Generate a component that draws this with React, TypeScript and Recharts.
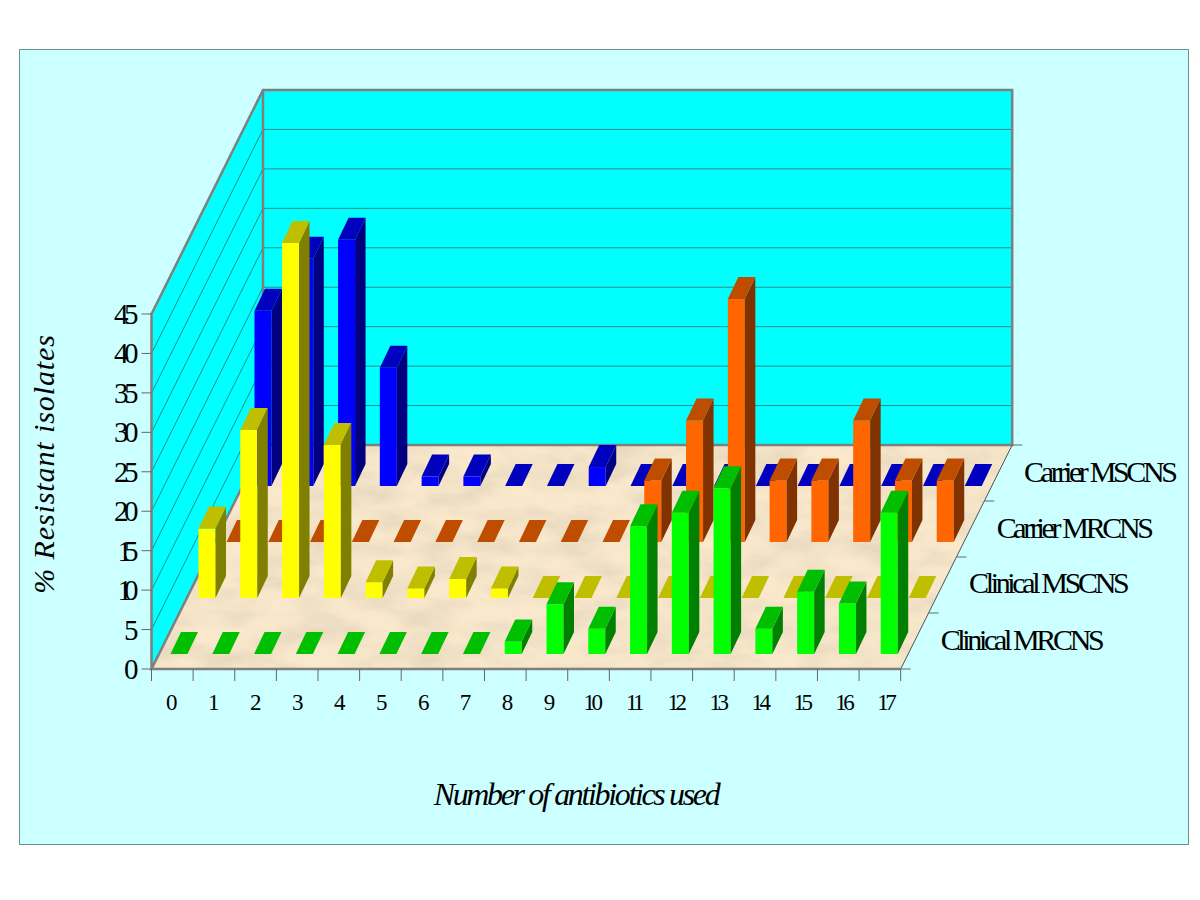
import React from "react";
import { ComposedChart, Bar, XAxis, YAxis, CartesianGrid } from "recharts";

const categories = ["0","1","2","3","4","5","6","7","8","9","10","11","12","13","14","15","16","17"];
const clinicalMRCNS = [0,0,0,0,0,0,0,0,1.6,6.3,3.2,16.2,17.9,21,3.2,7.9,6.4,17.9];
const clinicalMSCNS = [8.8,21.3,45,19.4,2,1.2,2.4,1.2,0,0,0,0,0,0,0,0,0,0];
const carrierMRCNS = [0,0,0,0,0,0,0,0,0,0,7.8,15.4,30.8,7.8,7.8,15.4,7.8,7.8];
const carrierMSCNS = [22.2,28.8,31.2,15,1.2,1.2,0,0,2.4,0,0,0,0,0,0,0,0,0];
const seriesNames = ["Clinical MRCNS","Clinical MSCNS","Carrier MRCNS","Carrier MSCNS"];
const yTicks = [0,5,10,15,20,25,30,35,40,45];

const data = categories.map((n, i) => ({
  n,
  s0: clinicalMRCNS[i],
  s1: clinicalMSCNS[i],
  s2: carrierMRCNS[i],
  s3: carrierMSCNS[i],
}));

// layout
const L = 151.5, B = 669, R = 900.7, T = 314;
const WALL_DX = 111.5, WALL_DY = -224;
const STEP_X = 28, STEP_Y = -56;
const BAR_W = 17, BAR_DX = 10.5, BAR_DY = -22;
const AXIS = "#7f7f7f";
const FONT = "'Liberation Serif','Times New Roman',serif";

const palette = [
  { front: "#00ff00", side: "#008000", top: "#00bf00" },
  { front: "#ffff00", side: "#808000", top: "#bfbf00" },
  { front: "#ff6600", side: "#803300", top: "#bf4d00" },
  { front: "#0000ff", side: "#000080", top: "#0000bf" },
];

const prism = (s: number) => (p: any) => {
  const c = palette[s];
  const x = p.x + 7.5 + s * STEP_X;
  const w = p.width;
  const h = Math.max(p.height, 0);
  const y = p.y - 15 + s * STEP_Y;
  const pts = (a: number[][]) => a.map((q) => q.join(",")).join(" ");
  return (
    <g>
      {h > 0 && <rect x={x} y={y} width={w} height={h} fill={c.front} />}
      {h > 0 && (
        <polygon
          fill={c.side}
          points={pts([[x + w, y], [x + w + BAR_DX, y + BAR_DY], [x + w + BAR_DX, y + h + BAR_DY], [x + w, y + h]])}
        />
      )}
      <polygon
        fill={c.top}
        points={pts([[x, y], [x + BAR_DX, y + BAR_DY], [x + w + BAR_DX, y + BAR_DY], [x + w, y]])}
      />
    </g>
  );
};

const gridLine = (p: any) => {
  const y = p.y1;
  return (
    <g key={p.key ?? y}>
      <line x1={L} y1={y} x2={L + WALL_DX} y2={y + WALL_DY} stroke="#1f6f6f" strokeWidth={0.8} />
      <line x1={L + WALL_DX} y1={y + WALL_DY} x2={R + WALL_DX} y2={y + WALL_DY} stroke="#2a8a8a" strokeWidth={1} />
    </g>
  );
};

const tightness = (v: string, one: number, other: number) => (v.startsWith("1") ? one : other);

const xTick = (p: any) => {
  const band = (R - L) / categories.length;
  const i = p.index;
  const v = String(p.payload.value);
  return (
    <g>
      <line x1={p.x - band / 2} y1={B} x2={p.x - band / 2} y2={B + 12} stroke="#666" />
      {i === categories.length - 1 && <line x1={p.x + band / 2} y1={B} x2={p.x + band / 2} y2={B + 12} stroke="#666" />}
      <text x={p.x + i * 0.35 - 0.5} y={B + 41} textAnchor="middle" fontFamily={FONT} fontSize={23} letterSpacing={v.length > 1 ? -3.5 : 0} fill="#000">
        {v}
      </text>
    </g>
  );
};

const yTick = (p: any) => {
  const v = String(p.payload.value);
  const ls = v.length > 1 ? tightness(v, -8, -4.5) : 0;
  return (
    <g>
      <line x1={L - 10} y1={p.y} x2={L} y2={p.y} stroke="#666" />
      <text x={L - 13 + ls} y={p.y + 10} textAnchor="end" fontFamily={FONT} fontSize={29} letterSpacing={ls} fill="#000">
        {v}
      </text>
    </g>
  );
};

const labelStarts = [940.7, 969, 996.7, 1024];
const labelBases = [650, 593, 538, 481.7];

export default function App() {
  return (
    <div style={{ position: "absolute", left: 0, top: 0, width: 1200, height: 900, background: "#fff" }}>
      <div
        style={{
          position: "absolute", left: 19, top: 49, width: 1168, height: 794,
          background: "#ccffff", border: "1px solid #6f8f8f",
        }}
      />
      <svg width={1200} height={900} style={{ position: "absolute", left: 0, top: 0 }}>
        <defs>
          <filter id="sand" x="0" y="0" width="1" height="1">
            <feTurbulence type="fractalNoise" baseFrequency="0.02 0.045" numOctaves="4" seed="7" result="n" />
            <feColorMatrix in="n" type="matrix" values="0 0 0 0 0.72  0 0 0 0 0.62  0 0 0 0 0.46  1.3 0 0 0 -0.45" result="c" />
            <feComposite in="c" in2="SourceGraphic" operator="in" result="d" />
            <feMerge>
              <feMergeNode in="SourceGraphic" />
              <feMergeNode in="d" />
            </feMerge>
          </filter>
        </defs>
        <polygon fill="#00ffff" points={`${L},${B} ${L},${T} ${L + WALL_DX},${T + WALL_DY} ${R + WALL_DX},${T + WALL_DY} ${R + WALL_DX},${B + WALL_DY} ${R},${B}`} />
        <polygon filter="url(#sand)" fill="#f9e8cc" points={`${L},${B} ${R},${B} ${R + WALL_DX},${B + WALL_DY} ${L + WALL_DX},${B + WALL_DY}`} />
      </svg>
      <div style={{ position: "absolute", left: 0, top: 0 }}>
        <ComposedChart
          width={1200}
          height={900}
          data={data}
          barSize={BAR_W}
          barGap={-BAR_W}
          margin={{ left: 121, top: T, right: 297, bottom: 201 }}
        >
          <CartesianGrid xAxisId="ticks" vertical={false} horizontal={gridLine} />
          <g fill="none" stroke={AXIS} strokeWidth={2.5}>
            <polyline points={`${L},${B} ${L},${T} ${L + WALL_DX},${T + WALL_DY} ${R + WALL_DX},${T + WALL_DY} ${R + WALL_DX},${B + WALL_DY} ${L + WALL_DX},${B + WALL_DY} ${L},${B} ${R},${B}`} />
            <line x1={L + WALL_DX} y1={T + WALL_DY} x2={L + WALL_DX} y2={B + WALL_DY} />
          </g>
          <line x1={R} y1={B} x2={R + WALL_DX} y2={B + WALL_DY} stroke="#555" strokeWidth={1} />
          {[0, 1, 2, 3, 4].map((k) => (
            <line
              key={k}
              x1={R + (k * WALL_DX) / 4}
              y1={B + (k * WALL_DY) / 4}
              x2={R + (k * WALL_DX) / 4 + 10}
              y2={B + (k * WALL_DY) / 4}
              stroke="#666"
            />
          ))}
          <XAxis
            xAxisId="ticks"
            dataKey="n"
            height={30}
            interval={0}
            axisLine={false}
            tickLine={false}
            tickSize={0}
            tickMargin={0}
            padding={{ left: 0.5, right: 2.3 }}
            tick={xTick}
          />
          <XAxis xAxisId="bars" dataKey="n" hide />
          <YAxis
            domain={[0, 45]}
            ticks={yTicks}
            width={30}
            interval={0}
            axisLine={false}
            tickLine={false}
            tickSize={0}
            tickMargin={0}
            tick={yTick}
          />
          <Bar xAxisId="bars" dataKey="s3" name={seriesNames[3]} isAnimationActive={false} shape={prism(3)} />
          <Bar xAxisId="bars" dataKey="s2" name={seriesNames[2]} isAnimationActive={false} shape={prism(2)} />
          <Bar xAxisId="bars" dataKey="s1" name={seriesNames[1]} isAnimationActive={false} shape={prism(1)} />
          <Bar xAxisId="bars" dataKey="s0" name={seriesNames[0]} isAnimationActive={false} shape={prism(0)} />
          {seriesNames.map((name, k) => (
            <text key={name} x={labelStarts[k]} y={labelBases[k]} fontFamily={FONT} fontSize={30} letterSpacing={-3.35} fill="#000">
              {name}
            </text>
          ))}
          <text x={576} y={805} textAnchor="middle" fontFamily={FONT} fontStyle="italic" fontSize={32} letterSpacing={-2.35} fill="#000">
            Number of antibiotics used
          </text>
          <text
            transform="translate(54,464) rotate(-90)"
            textAnchor="middle"
            fontFamily={FONT}
            fontStyle="italic"
            fontSize={30}
            letterSpacing={0.9}
            fill="#000"
          >
            % Resistant isolates
          </text>
        </ComposedChart>
      </div>
    </div>
  );
}
